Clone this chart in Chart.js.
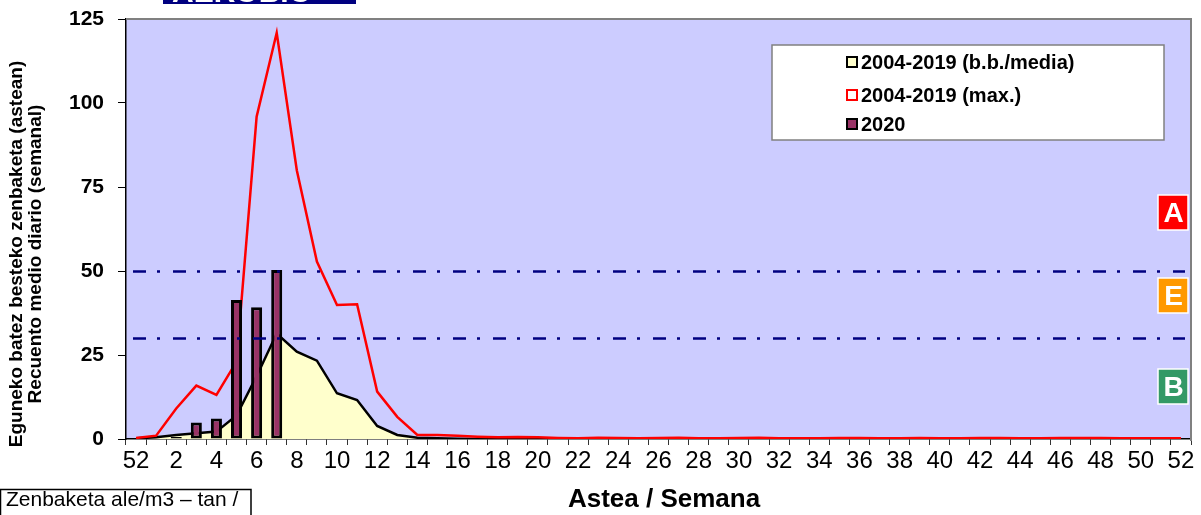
<!DOCTYPE html>
<html>
<head>
<meta charset="utf-8">
<script src="https://cdn.jsdelivr.net/npm/chart.js@4.4.1/dist/chart.umd.min.js"></script>
<style>
  html, body { margin: 0; padding: 0; background: #fff; }
  canvas { display: block; }
</style>
</head>
<body>
<canvas id="polenChart" width="1201" height="515" style="width:1201px;height:515px"></canvas>
<script>
// Asteak / semanas (52 del año anterior + 1..52)
const weeks = ['52', '1', '2', '3', '4', '5', '6', '7', '8', '9', '10', '11', '12', '13', '14', '15', '16', '17', '18', '19', '20',
  '21', '22', '23', '24', '25', '26', '27', '28', '29', '30', '31', '32', '33', '34', '35', '36', '37', '38', '39', '40',
  '41', '42', '43', '44', '45', '46', '47', '48', '49', '50', '51', '52'];

// 2004-2019 (b.b./media)
const meanValues = [0.2, 0.5, 1.2, 1.7, 2.2, 7.0, 18.7, 31.4, 26.0, 23.3, 13.6, 11.6, 3.9, 1.2, 0.4, 0.2, 0.1, 0, 0, 0, 0,
  0, 0, 0, 0, 0, 0, 0, 0, 0, 0, 0, 0, 0, 0, 0, 0, 0, 0, 0, 0,
  0, 0, 0, 0, 0, 0, 0, 0, 0, 0, 0, 0];

// 2004-2019 (max.)
const maxValues = [0.3, 1.0, 9.1, 15.9, 13.1, 23.0, 95.9, 120.9, 80.0, 52.8, 39.9, 40.1, 14.1, 6.6, 1.2, 1.2, 1.0, 0.7, 0.5, 0.6, 0.5,
  0.3, 0.2, 0.4, 0.3, 0.2, 0.3, 0.4, 0.2, 0.2, 0.3, 0.4, 0.2, 0.2, 0.2, 0.3, 0.3, 0.2, 0.2, 0.3, 0.2,
  0.2, 0.3, 0.3, 0.2, 0.2, 0.3, 0.3, 0.3, 0.2, 0.2, 0.2, 0.2];

// 2020
const counts2020 = [0, 0, 0.6, 4.9, 6.1, 41.4, 39.2, 50.3, null, null, null, null, null, null, null, null, null, null, null, null, null,
  null, null, null, null, null, null, null, null, null, null, null, null, null, null, null, null, null, null, null, null,
  null, null, null, null, null, null, null, null, null, null, null, null];

const yTicks = [0, 25, 50, 75, 100, 125];
const thresholds = [30, 50];

const legendItems = [
  { text: '2004-2019 (b.b./media)', fill: '#ffffcc', stroke: '#000000' },
  { text: '2004-2019 (max.)', fill: '#ffffff', stroke: '#ff0000' },
  { text: '2020', fill: '#993366', stroke: '#000000' }
];

const levelBoxes = [
  { letter: 'A', color: '#ff0000', top: 195 },
  { letter: 'E', color: '#ff9900', top: 278 },
  { letter: 'B', color: '#339966', top: 369 }
];

const FONT = "Arial, 'Liberation Sans', sans-serif";

const decorPlugin = {
  id: 'decor',
  beforeDraw(chart) {
    const { ctx, chartArea: a } = chart;
    ctx.save();
    ctx.fillStyle = '#ccccff';
    ctx.fillRect(a.left, a.top, a.right - a.left, a.bottom - a.top);
    ctx.restore();
  },
  afterDatasetsDraw(chart) {
    const { ctx, chartArea: a, scales } = chart;
    ctx.save();
    ctx.strokeStyle = '#000080';
    ctx.lineWidth = 2.5;
    ctx.setLineDash([13, 11, 3, 13]);
    thresholds.forEach(function (t) {
      const y = Math.round(scales.y.getPixelForValue(t)) + 0.5;
      ctx.beginPath();
      ctx.moveTo(a.left + 7, y);
      ctx.lineTo(a.right - 6, y);
      ctx.stroke();
    });
    ctx.setLineDash([]);

    // marco gris arriba y derecha
    ctx.strokeStyle = '#808080';
    ctx.lineWidth = 2;
    ctx.beginPath();
    ctx.moveTo(a.left, a.top);
    ctx.lineTo(a.right, a.top);
    ctx.lineTo(a.right, a.bottom + 2);
    ctx.stroke();
    ctx.restore();
  },
  afterDraw(chart) {
    const { ctx } = chart;
    ctx.save();

    // logo (cortado arriba)
    ctx.fillStyle = '#000080';
    ctx.fillRect(163, 0, 193, 4);
    ctx.beginPath();
    ctx.rect(163, 0, 193, 4);
    ctx.clip();
    ctx.fillStyle = '#ffffff';
    ctx.font = 'bold 30px ' + FONT;
    ctx.textBaseline = 'alphabetic';
    ctx.fillText('AEROBIO', 172, 2);
    ctx.restore();
    ctx.save();

    // leyenda
    ctx.fillStyle = '#ffffff';
    ctx.fillRect(772, 45, 392, 95);
    ctx.strokeStyle = '#808080';
    ctx.lineWidth = 1.5;
    ctx.strokeRect(772, 45, 392, 95);
    const rowY = [62, 95, 124];
    ctx.font = 'bold 20px ' + FONT;
    ctx.textBaseline = 'middle';
    legendItems.forEach(function (item, i) {
      ctx.fillStyle = item.fill;
      ctx.fillRect(847, rowY[i] - 5, 10, 10);
      ctx.strokeStyle = item.stroke;
      ctx.lineWidth = 2;
      ctx.strokeRect(847, rowY[i] - 5, 10, 10);
      ctx.fillStyle = '#000';
      ctx.fillText(item.text, 861, rowY[i] + 1);
    });

    // cajas A / E / B
    levelBoxes.forEach(function (b) {
      ctx.fillStyle = b.color;
      ctx.fillRect(1158, b.top, 30, 35);
      ctx.strokeStyle = '#ffffff';
      ctx.lineWidth = 1.5;
      ctx.strokeRect(1158, b.top, 30, 35);
      ctx.fillStyle = '#ffffff';
      ctx.font = 'bold 28px ' + FONT;
      ctx.textAlign = 'center';
      ctx.textBaseline = 'middle';
      ctx.fillText(b.letter, 1173.5, b.top + 19);
    });

    // titulo eje Y (dos lineas)
    ctx.fillStyle = '#000';
    ctx.font = 'bold 19px ' + FONT;
    ctx.textAlign = 'center';
    ctx.textBaseline = 'middle';
    ctx.save();
    ctx.translate(17, 254);
    ctx.rotate(-Math.PI / 2);
    ctx.fillText('Eguneko batez besteko zenbaketa (astean)', 0, 0);
    ctx.fillText('Recuento medio diario (semanal)', 0, 19);
    ctx.restore();

    // titulo eje X
    ctx.font = 'bold 26px ' + FONT;
    ctx.textAlign = 'center';
    ctx.fillText('Astea / Semana', 664, 500);

    // caja abajo a la izquierda
    ctx.strokeStyle = '#000';
    ctx.lineWidth = 1.5;
    ctx.beginPath();
    ctx.moveTo(0.5, 520);
    ctx.lineTo(0.5, 489.5);
    ctx.lineTo(251, 489.5);
    ctx.lineTo(251, 520);
    ctx.stroke();
    ctx.font = '21px ' + FONT;
    ctx.textAlign = 'left';
    ctx.fillText('Zenbaketa ale/m3 \u2013 tan /', 6, 500);

    ctx.restore();
  }
};

const ctx = document.getElementById('polenChart').getContext('2d');
const chart = new Chart(ctx, {
  type: 'bar',
  data: {
    labels: weeks,
    datasets: [
      {
        type: 'bar',
        label: '2020',
        data: counts2020,
        backgroundColor: '#993366',
        borderColor: '#000000',
        borderWidth: 3,
        borderSkipped: false,
        barPercentage: 0.55,
        categoryPercentage: 1,
        order: 0
      },
      {
        type: 'line',
        label: '2004-2019 (max.)',
        data: maxValues,
        borderColor: '#ff0000',
        borderWidth: 2.5,
        pointRadius: 0,
        fill: false,
        tension: 0,
        order: 1
      },
      {
        type: 'line',
        label: '2004-2019 (b.b./media)',
        data: meanValues,
        borderColor: '#000000',
        backgroundColor: '#ffffcc',
        borderWidth: 2.5,
        pointRadius: 0,
        fill: 'origin',
        tension: 0,
        order: 2
      }
    ]
  },
  options: {
    responsive: false,
    animation: false,
    devicePixelRatio: 1,
    layout: { padding: { top: 19, right: 10, left: 0, bottom: 0 } },
    plugins: {
      legend: { display: false },
      tooltip: { enabled: false }
    },
    scales: {
      x: {
        offset: true,
        grid: { display: true, drawOnChartArea: false, offset: true, tickLength: 6, color: '#333333', lineWidth: 1 },
        border: { display: true, color: '#000000', width: 1.5 },
        ticks: {
          autoSkip: false,
          maxRotation: 0,
          minRotation: 0,
          padding: 2,
          color: '#000000',
          font: { family: "'Liberation Sans Narrow', 'Arial Narrow', Arial, sans-serif", size: 24 },
          callback: function (value, index) {
            return index % 2 === 0 ? weeks[index] : '';
          }
        },
        afterFit: function (scale) { scale.height = 76; }
      },
      y: {
        min: 0,
        max: 125,
        afterBuildTicks: function (scale) {
          scale.ticks = yTicks.map(function (v) { return { value: v }; });
        },
        ticks: {
          padding: 14,
          color: '#000000',
          font: { family: FONT, size: 21, weight: 'bold' }
        },
        grid: { drawOnChartArea: false, tickLength: 8, color: '#000000' },
        border: { color: '#000000', width: 1.5 },
        afterFit: function (scale) {
          scale.width = 126;
          scale.paddingTop = 12;
          scale.paddingBottom = 12;
        }
      }
    }
  },
  plugins: [decorPlugin]
});
</script>
</body>
</html>
